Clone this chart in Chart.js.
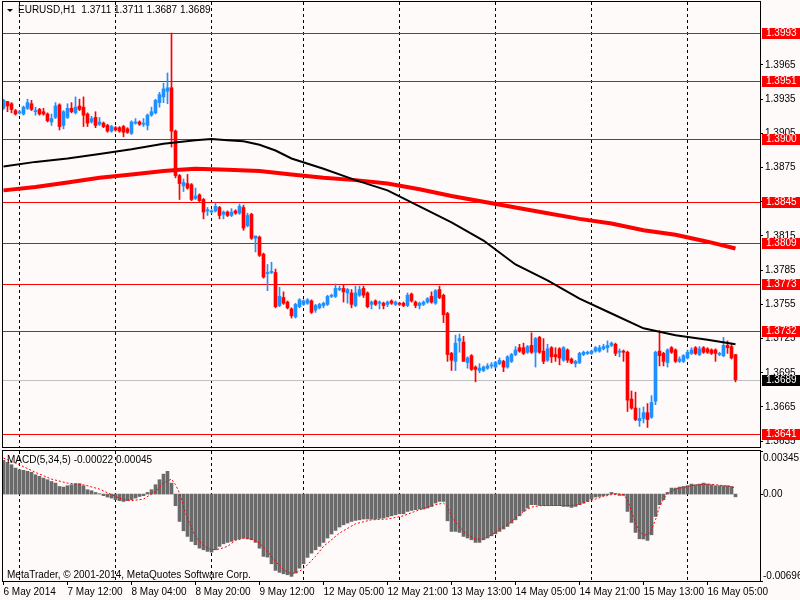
<!DOCTYPE html>
<html><head><meta charset="utf-8">
<script src="https://cdn.jsdelivr.net/npm/chart.js@4.4.1/dist/chart.umd.min.js"></script>
<style>
html,body{margin:0;padding:0;background:#FFFAFA;}
#wrap{position:relative;width:800px;height:600px;background:#FFFAFA;overflow:hidden;}
canvas{position:absolute;left:0;}
#c1{top:0;width:800px;height:449px;}
#c2{top:449px;width:800px;height:151px;}
</style></head><body>
<div id="wrap"><canvas id="c1" width="800" height="449"></canvas><canvas id="c2" width="800" height="151"></canvas></div>
<script>
// ---------- DATA ----------
const symbol = 'EURUSD,H1';
const timeLabels = ['6 May 2014','7 May 12:00','8 May 04:00','8 May 20:00','9 May 12:00','12 May 05:00','12 May 21:00','13 May 13:00','14 May 05:00','14 May 21:00','15 May 13:00','16 May 05:00'];
const labelIdx = [0,16,32,48,64,80,96,112,128,144,160,176];
const dayStartIdx = [4,28,52,75,99,123,147,171];
const priceTicks = [1.3635,1.3665,1.3695,1.3725,1.3755,1.3785,1.3815,1.3845,1.3875,1.3905,1.3935,1.3965];
const levels = [1.3993,1.3951,1.3900,1.3845,1.3809,1.3773,1.3732,1.3641];
const bidPrice = 1.3689;
// [open, high, low, close]
const candles = [
[1.3927,1.3935,1.3926,1.3934],[1.3933,1.3933,1.3924,1.3929],[1.3931,1.3932,1.3923,1.3926],[1.3925,1.3926,1.3921,1.3922],
[1.3923,1.3925,1.3922,1.3924],[1.3922,1.3929,1.3921,1.3928],[1.3927,1.3935,1.3926,1.3932],[1.3931,1.3934,1.3925,1.3926],
[1.3924,1.3928,1.3921,1.3925],[1.3926,1.3927,1.3921,1.3922],[1.3924,1.3927,1.3921,1.3922],[1.3922,1.3923,1.3915,1.3916],
[1.3915,1.3922,1.3912,1.3918],[1.3919,1.3932,1.3918,1.3929],[1.3930,1.3931,1.3908,1.3911],[1.3912,1.3925,1.3909,1.3924],
[1.3919,1.3931,1.3918,1.3927],[1.3927,1.3932,1.3923,1.3924],[1.3923,1.3937,1.3922,1.3928],[1.3929,1.3935,1.3925,1.3926],
[1.3928,1.3937,1.3911,1.3921],[1.3922,1.3923,1.3911,1.3914],[1.3915,1.3920,1.3914,1.3918],[1.3919,1.3924,1.3910,1.3912],
[1.3913,1.3919,1.3912,1.3915],[1.3914,1.3915,1.3910,1.3911],[1.3912,1.3913,1.3906,1.3907],[1.3907,1.3912,1.3906,1.3911],
[1.3910,1.3911,1.3907,1.3908],[1.3910,1.3911,1.3906,1.3907],[1.3911,1.3912,1.3902,1.3906],[1.3909,1.3910,1.3905,1.3906],
[1.3905,1.3916,1.3904,1.3915],[1.3914,1.3918,1.3913,1.3915],[1.3915,1.3916,1.3912,1.3913],[1.3913,1.3918,1.3911,1.3914],
[1.3912,1.3922,1.3908,1.3921],[1.3921,1.3928,1.3920,1.3924],[1.3923,1.3935,1.3922,1.3934],[1.3932,1.3941,1.3928,1.3939],
[1.3937,1.3949,1.3932,1.3944],[1.3942,1.3958,1.3931,1.3945],[1.3945,1.3993,1.3893,1.3907],[1.3907,1.3908,1.3866,1.3868],
[1.3868,1.3869,1.3847,1.3861],[1.3859,1.3865,1.3854,1.3862],[1.3861,1.3869,1.3856,1.3857],[1.3860,1.3861,1.3846,1.3847],
[1.3848,1.3857,1.3847,1.3850],[1.3851,1.3852,1.3845,1.3846],[1.3847,1.3848,1.3830,1.3836],[1.3837,1.3840,1.3833,1.3838],
[1.3836,1.3838,1.3835,1.3837],[1.3837,1.3844,1.3836,1.3841],[1.3840,1.3841,1.3830,1.3833],[1.3834,1.3837,1.3830,1.3836],
[1.3836,1.3837,1.3832,1.3833],[1.3833,1.3839,1.3832,1.3836],[1.3837,1.3838,1.3834,1.3835],[1.3835,1.3843,1.3834,1.3841],
[1.3840,1.3842,1.3820,1.3822],[1.3824,1.3835,1.3823,1.3833],[1.3834,1.3835,1.3812,1.3813],[1.3813,1.3815,1.3801,1.3815],
[1.3814,1.3815,1.3797,1.3798],[1.3799,1.3800,1.3778,1.3779],[1.3782,1.3790,1.3767,1.3783],[1.3783,1.3792,1.3782,1.3784],
[1.3783,1.3786,1.3752,1.3753],[1.3754,1.3770,1.3753,1.3762],[1.3761,1.3766,1.3755,1.3756],[1.3757,1.3758,1.3751,1.3752],
[1.3751,1.3752,1.3743,1.3745],[1.3744,1.3756,1.3743,1.3755],[1.3753,1.3760,1.3752,1.3759],[1.3755,1.3759,1.3754,1.3758],
[1.3756,1.3760,1.3755,1.3759],[1.3758,1.3759,1.3747,1.3748],[1.3750,1.3755,1.3748,1.3754],[1.3752,1.3756,1.3751,1.3755],
[1.3754,1.3757,1.3752,1.3756],[1.3755,1.3763,1.3754,1.3762],[1.3762,1.3764,1.3761,1.3763],[1.3762,1.3773,1.3761,1.3769],
[1.3768,1.3771,1.3767,1.3769],[1.3769,1.3772,1.3757,1.3766],[1.3765,1.3769,1.3756,1.3768],[1.3765,1.3768,1.3752,1.3755],
[1.3754,1.3771,1.3753,1.3765],[1.3763,1.3771,1.3762,1.3768],[1.3769,1.3771,1.3761,1.3763],[1.3765,1.3766,1.3752,1.3753],
[1.3755,1.3758,1.3751,1.3757],[1.3758,1.3759,1.3754,1.3755],[1.3756,1.3758,1.3751,1.3757],[1.3756,1.3757,1.3751,1.3754],
[1.3755,1.3758,1.3753,1.3757],[1.3758,1.3759,1.3755,1.3756],[1.3755,1.3758,1.3754,1.3757],[1.3756,1.3757,1.3754,1.3755],
[1.3756,1.3757,1.3753,1.3754],[1.3754,1.3765,1.3753,1.3763],[1.3764,1.3765,1.3757,1.3758],[1.3757,1.3758,1.3752,1.3754],
[1.3754,1.3757,1.3751,1.3756],[1.3755,1.3758,1.3754,1.3757],[1.3757,1.3761,1.3756,1.3760],[1.3762,1.3766,1.3756,1.3757],
[1.3756,1.3768,1.3755,1.3767],[1.3768,1.3771,1.3760,1.3761],[1.3763,1.3764,1.3739,1.3746],[1.3747,1.3748,1.3705,1.3711],
[1.3712,1.3713,1.3697,1.3706],[1.3705,1.3728,1.3697,1.3721],[1.3723,1.3729,1.3713,1.3725],[1.3722,1.3727,1.3705,1.3705],
[1.3704,1.3709,1.3699,1.3708],[1.3710,1.3711,1.3697,1.3698],[1.3700,1.3701,1.3687,1.3698],[1.3697,1.3703,1.3695,1.3699],
[1.3697,1.3701,1.3696,1.3700],[1.3699,1.3703,1.3698,1.3701],[1.3701,1.3704,1.3699,1.3702],[1.3700,1.3705,1.3699,1.3704],
[1.3703,1.3708,1.3702,1.3706],[1.3705,1.3706,1.3696,1.3700],[1.3700,1.3710,1.3699,1.3709],[1.3705,1.3712,1.3704,1.3711],
[1.3711,1.3718,1.3710,1.3715],[1.3717,1.3720,1.3713,1.3714],[1.3717,1.3721,1.3711,1.3712],[1.3713,1.3719,1.3712,1.3718],
[1.3719,1.3730,1.3712,1.3713],[1.3713,1.3726,1.3700,1.3725],[1.3726,1.3727,1.3712,1.3713],[1.3714,1.3725,1.3703,1.3705],
[1.3706,1.3720,1.3705,1.3716],[1.3717,1.3718,1.3704,1.3709],[1.3711,1.3717,1.3705,1.3709],[1.3716,1.3717,1.3702,1.3708],
[1.3706,1.3718,1.3705,1.3717],[1.3715,1.3716,1.3704,1.3706],[1.3707,1.3708,1.3703,1.3704],[1.3703,1.3706,1.3700,1.3705],
[1.3704,1.3713,1.3703,1.3712],[1.3711,1.3714,1.3710,1.3713],[1.3712,1.3714,1.3711,1.3713],[1.3712,1.3715,1.3711,1.3714],
[1.3714,1.3718,1.3713,1.3717],[1.3714,1.3719,1.3713,1.3717],[1.3716,1.3720,1.3715,1.3718],[1.3717,1.3723,1.3713,1.3719],
[1.3719,1.3722,1.3718,1.3721],[1.3720,1.3721,1.3710,1.3712],[1.3713,1.3716,1.3709,1.3714],[1.3714,1.3715,1.3705,1.3713],
[1.3713,1.3714,1.3661,1.3671],[1.3672,1.3679,1.3663,1.3664],[1.3664,1.3678,1.3653,1.3654],[1.3653,1.3664,1.3648,1.3655],
[1.3655,1.3665,1.3651,1.3660],[1.3660,1.3668,1.3647,1.3654],[1.3656,1.3675,1.3655,1.3669],[1.3670,1.3714,1.3667,1.3713],
[1.3714,1.3732,1.3701,1.3710],[1.3712,1.3713,1.3701,1.3705],[1.3704,1.3716,1.3700,1.3715],[1.3717,1.3718,1.3712,1.3713],
[1.3715,1.3716,1.3704,1.3705],[1.3705,1.3709,1.3704,1.3707],[1.3705,1.3711,1.3704,1.3710],[1.3708,1.3715,1.3707,1.3713],
[1.3712,1.3717,1.3711,1.3715],[1.3717,1.3718,1.3711,1.3712],[1.3711,1.3718,1.3710,1.3716],[1.3717,1.3718,1.3712,1.3713],
[1.3716,1.3717,1.3712,1.3713],[1.3715,1.3716,1.3711,1.3712],[1.3715,1.3716,1.3705,1.3712],[1.3711,1.3713,1.3710,1.3712],
[1.3710,1.3726,1.3709,1.3719],[1.3719,1.3723,1.3712,1.3717],[1.3718,1.3721,1.3707,1.3708],[1.3711,1.3711,1.3687,1.3689]
];
const maBlackIdx = [0,8,16,24,32,40,48,52,56,60,64,68,72,80,88,96,104,112,120,128,136,144,152,160,168,176,183];
const maBlack = [1.3876,1.3880,1.3883,1.3887,1.3891,1.3896,1.3899,1.3900,1.3899,1.3898,1.3895,1.3890,1.3883,1.3874,1.3864,1.3855,1.3841,1.3827,1.3811,1.3790,1.3776,1.3760,1.3747,1.3734,1.3728,1.3724,1.3720];
const maRedIdx = [0,8,16,24,32,40,44,48,56,64,72,80,88,96,104,112,120,128,136,144,152,160,168,176,183];
const maRed = [1.3855,1.3858,1.3862,1.3866,1.3869,1.3872,1.3873,1.3874,1.3873,1.3872,1.3869,1.3866,1.3864,1.3861,1.3856,1.3850,1.3845,1.3840,1.3835,1.3830,1.3826,1.3820,1.3816,1.3810,1.3804];
const macdParams = [5,34,5];
const macdHist = [
0.00270,0.00254,0.00235,0.00208,0.00195,0.00190,0.00182,0.00174,0.00155,0.00142,
0.00128,0.00115,0.00101,0.00088,0.00061,0.00056,0.00067,0.00075,0.00083,0.00083,
0.00067,0.00035,0.00027,0.00013,0.00003,-0.00013,-0.00024,-0.00032,-0.00045,-0.00053,
-0.00059,-0.00053,-0.00045,-0.00032,-0.00019,-0.00013,0.00013,0.00035,0.00075,0.00115,
0.00160,0.00182,0.00088,-0.00093,-0.00219,-0.00294,-0.00339,-0.00379,-0.00406,-0.00433,
-0.00446,-0.00459,-0.00465,-0.00446,-0.00419,-0.00398,-0.00387,-0.00379,-0.00366,-0.00358,
-0.00352,-0.00358,-0.00366,-0.00387,-0.00433,-0.00499,-0.00505,-0.00558,-0.00611,-0.00627,
-0.00638,-0.00646,-0.00659,-0.00633,-0.00593,-0.00558,-0.00507,-0.00473,-0.00446,-0.00419,
-0.00387,-0.00352,-0.00320,-0.00291,-0.00264,-0.00246,-0.00232,-0.00219,-0.00211,-0.00206,
-0.00200,-0.00200,-0.00200,-0.00200,-0.00195,-0.00192,-0.00184,-0.00174,-0.00166,-0.00158,
-0.00158,-0.00139,-0.00131,-0.00125,-0.00120,-0.00120,-0.00112,-0.00099,-0.00072,-0.00059,
-0.00059,-0.00214,-0.00299,-0.00299,-0.00307,-0.00339,-0.00352,-0.00366,-0.00387,-0.00387,
-0.00366,-0.00352,-0.00334,-0.00318,-0.00299,-0.00280,-0.00259,-0.00232,-0.00206,-0.00174,
-0.00139,-0.00112,-0.00085,-0.00085,-0.00091,-0.00093,-0.00093,-0.00093,-0.00093,-0.00093,
-0.00099,-0.00099,-0.00107,-0.00099,-0.00085,-0.00072,-0.00059,-0.00040,-0.00024,-0.00019,
-0.00013,-0.00005,0.00013,0.00005,-0.00011,-0.00011,-0.00139,-0.00227,-0.00307,-0.00358,
-0.00360,-0.00371,-0.00326,-0.00179,-0.00085,-0.00045,0.00013,0.00048,0.00048,0.00056,
0.00061,0.00067,0.00080,0.00075,0.00080,0.00088,0.00080,0.00075,0.00067,0.00067,
0.00067,0.00067,0.00061,-0.00022];
const signalIdx = [0,4,8,12,16,20,24,28,30,32,35,38,40,42,43,44,45,46,47,48,50,52,54,56,58,60,62,64,66,68,70,72,74,76,78,80,84,88,92,96,100,104,108,110,111,112,114,116,118,120,122,124,126,128,130,132,134,138,142,144,146,148,150,152,154,155,156,157,158,159,160,161,162,163,164,165,166,168,170,172,174,176,178,180,182,183];
const signalVal = [0.00288,0.00235,0.00174,0.00120,0.00088,0.00075,0.00040,-0.00019,-0.00045,-0.00053,-0.00040,0.00021,0.00088,0.00120,0.00075,0.00008,-0.00099,-0.00192,-0.00272,-0.00339,-0.00414,-0.00446,-0.00440,-0.00419,-0.00371,-0.00355,-0.00360,-0.00392,-0.00459,-0.00539,-0.00606,-0.00638,-0.00619,-0.00566,-0.00499,-0.00419,-0.00312,-0.00238,-0.00206,-0.00200,-0.00174,-0.00125,-0.00085,-0.00072,-0.00099,-0.00179,-0.00264,-0.00326,-0.00360,-0.00360,-0.00326,-0.00280,-0.00246,-0.00192,-0.00139,-0.00104,-0.00093,-0.00091,-0.00091,-0.00085,-0.00059,-0.00040,-0.00019,-0.00005,0.00000,-0.00005,-0.00045,-0.00139,-0.00232,-0.00299,-0.00326,-0.00326,-0.00286,-0.00206,-0.00099,-0.00040,0.00008,0.00040,0.00053,0.00067,0.00075,0.00080,0.00075,0.00067,0.00061,0.00045];
const macdAxisValues = [0.00345,0,-0.00696];
const macdAxisLabels = ['0.00345','0.00','-0.00696'];
const copyright = 'MetaTrader, \u00A9 2001-2014, MetaQuotes Software Corp.';

// ---------- STYLE ----------
const BG = '#FFFAFA', BULL = '#1E90FF', BEAR = '#FF0000';
const FONT = '"Liberation Sans", Arial, sans-serif';
const X_MIN = -0.375, X_MAX = 189.125;
const P_MIN = 1.362989, P_MAX = 1.402025;

const bgPlugin = { id:'bg', beforeDraw(c){ const g=c.ctx; g.save(); g.fillStyle=BG; g.fillRect(0,0,c.width,c.height); g.restore(); } };

function drawDayLines(chart){
  const {ctx, chartArea:a, scales:{x}} = chart;
  ctx.save(); ctx.strokeStyle='#000'; ctx.lineWidth=1; ctx.setLineDash([3,3]);
  dayStartIdx.forEach(d=>{ const px=Math.floor(x.getPixelForValue(d))+0.5; ctx.beginPath(); ctx.moveTo(px,a.top); ctx.lineTo(px,a.bottom); ctx.stroke(); });
  ctx.restore();
}
function drawFrame(chart){
  const {ctx, chartArea:a} = chart;
  ctx.save(); ctx.strokeStyle='#000'; ctx.lineWidth=1;
  ctx.strokeRect(a.left+0.5, a.top-0.5, a.right-a.left, a.bottom-a.top+1);
  ctx.restore();
}

const mainPlugin = {
  id:'mainDeco',
  beforeDatasetsDraw(chart){
    const {ctx, chartArea:a, scales:{y}} = chart;
    drawDayLines(chart);
    ctx.save(); ctx.lineWidth=1;
    const by = Math.round(y.getPixelForValue(bidPrice))+0.5;
    ctx.strokeStyle='#C0C0C0'; ctx.beginPath(); ctx.moveTo(a.left,by); ctx.lineTo(a.right,by); ctx.stroke();
    ctx.strokeStyle='#FF0000';
    levels.forEach(v=>{ const py=Math.round(y.getPixelForValue(v))+0.5; ctx.beginPath(); ctx.moveTo(a.left,py); ctx.lineTo(a.right,py); ctx.stroke(); });
    ctx.restore();
  },
  afterDraw(chart){
    const {ctx, chartArea:a, scales:{y}} = chart;
    drawFrame(chart);
    ctx.save();
    ctx.font = '10px '+FONT; ctx.textBaseline='middle'; ctx.textAlign='left';
    const box = (v,col)=>{ const py=Math.round(y.getPixelForValue(v)); ctx.fillStyle=col; ctx.fillRect(a.right+2, py-5, 38, 11); ctx.fillStyle='#FFF'; ctx.fillText(v.toFixed(4), a.right+6, py+0.5); };
    levels.forEach(v=>box(v,'#FF0000'));
    box(bidPrice,'#000000');
    // header
    ctx.fillStyle='#000';
    ctx.beginPath(); ctx.moveTo(7,9); ctx.lineTo(13,9); ctx.lineTo(10,12); ctx.closePath(); ctx.fill();
    const last = candles[candles.length-1];
    ctx.fillText(symbol+'  '+last.map(v=>v.toFixed(4)).join(' '), 18, 10.5);
    ctx.restore();
  }
};

const macdPlugin = {
  id:'macdDeco',
  beforeDatasetsDraw(chart){ drawDayLines(chart); },
  afterDraw(chart){
    const {ctx, chartArea:a, scales:{y}} = chart;
    drawFrame(chart);
    ctx.save();
    ctx.font = '10px '+FONT; ctx.textBaseline='middle'; ctx.textAlign='left'; ctx.fillStyle='#000';
    macdAxisValues.forEach((v,k)=>{
      let py = y.getPixelForValue(v);
      ctx.fillRect(a.right, Math.round(py), 3, 1);
      py = Math.min(Math.max(py, a.top+7), a.bottom-5);
      ctx.fillText(macdAxisLabels[k], a.right+3, py);
    });
    const n = macdHist.length-1;
    ctx.fillText('MACD('+macdParams.join(',')+') '+macdHist[n].toFixed(5)+' '+signalVal[signalVal.length-1].toFixed(5), 7, a.top+9);
    ctx.fillText(copyright, 7, a.bottom-6);
    ctx.restore();
  }
};

const candleColors = candles.map(c => c[3] >= c[0] ? BULL : BEAR);

new Chart(document.getElementById('c1'), {
  type:'bar',
  data:{ datasets:[
    { type:'line', data: maBlackIdx.map((x,k)=>({x, y:maBlack[k]})), borderColor:'#000', borderWidth:2, pointRadius:0, tension:0, order:0 },
    { type:'line', data: maRedIdx.map((x,k)=>({x, y:maRed[k]})), borderColor:'#FF0000', borderWidth:4, pointRadius:0, tension:0, order:0 },
    { data: candles.map((c,i)=>({x:i, y:[Math.min(c[0],c[3]), Math.max(c[0],c[3])]})), backgroundColor:candleColors, barThickness:3, minBarLength:1, grouped:false, borderWidth:0, order:1 },
    { data: candles.map((c,i)=>({x:i, y:[c[2], c[1]]})), backgroundColor:candleColors, barThickness:1, minBarLength:1, grouped:false, borderWidth:0, order:2 }
  ]},
  options:{
    responsive:false, animation:false, devicePixelRatio:1,
    layout:{padding:{left:2, top:2, right:0, bottom:2}},
    plugins:{legend:{display:false}, tooltip:{enabled:false}},
    scales:{
      x:{type:'linear', min:X_MIN, max:X_MAX, display:false, offset:false, grid:{offset:false}},
      y:{type:'linear', position:'right', min:P_MIN, max:P_MAX,
         afterBuildTicks(s){ s.ticks = priceTicks.map(v=>({value:v})); },
         afterFit(s){ s.width = 40; s.paddingTop = 0; s.paddingBottom = 0; },
         ticks:{color:'#000', font:{family:FONT, size:10}, padding:2, autoSkip:false, callback:v=>Number(v).toFixed(4)},
         grid:{drawOnChartArea:false, drawTicks:true, tickLength:3, color:'#000'},
         border:{display:false}}
    }
  },
  plugins:[bgPlugin, mainPlugin]
});

new Chart(document.getElementById('c2'), {
  type:'bar',
  data:{ datasets:[
    { type:'line', data: signalIdx.map((x,k)=>({x, y:signalVal[k]})), borderColor:'#FF0000', borderWidth:1, borderDash:[2,2], pointRadius:0, tension:0, order:0 },
    { data: macdHist.map((v,i)=>({x:i, y:v})), backgroundColor:'#6A6A6A', barThickness:3, grouped:false, borderWidth:0, order:1 }
  ]},
  options:{
    responsive:false, animation:false, devicePixelRatio:1,
    layout:{padding:{left:2, top:2, right:0, bottom:0}},
    plugins:{legend:{display:false}, tooltip:{enabled:false}},
    scales:{
      x:{type:'linear', min:X_MIN, max:X_MAX, offset:false,
         afterBuildTicks(s){ s.ticks = labelIdx.map(v=>({value:v})); },
         afterFit(s){ s.height = 19; s.paddingLeft = 0; s.paddingRight = 0; },
         ticks:{align:'start', autoSkip:false, maxRotation:0, color:'#000', font:{family:FONT, size:10}, padding:1, callback:(v,k)=>timeLabels[k]},
         grid:{drawOnChartArea:false, drawTicks:true, tickLength:4, color:'#000', offset:false},
         border:{display:false}},
      y:{type:'linear', position:'right', min:-0.00696, max:0.00345,
         afterFit(s){ s.width = 40; s.paddingTop = 0; s.paddingBottom = 0; },
         ticks:{display:false}, grid:{display:false}, border:{display:false}}
    }
  },
  plugins:[bgPlugin, macdPlugin]
});
</script>
</body></html>
